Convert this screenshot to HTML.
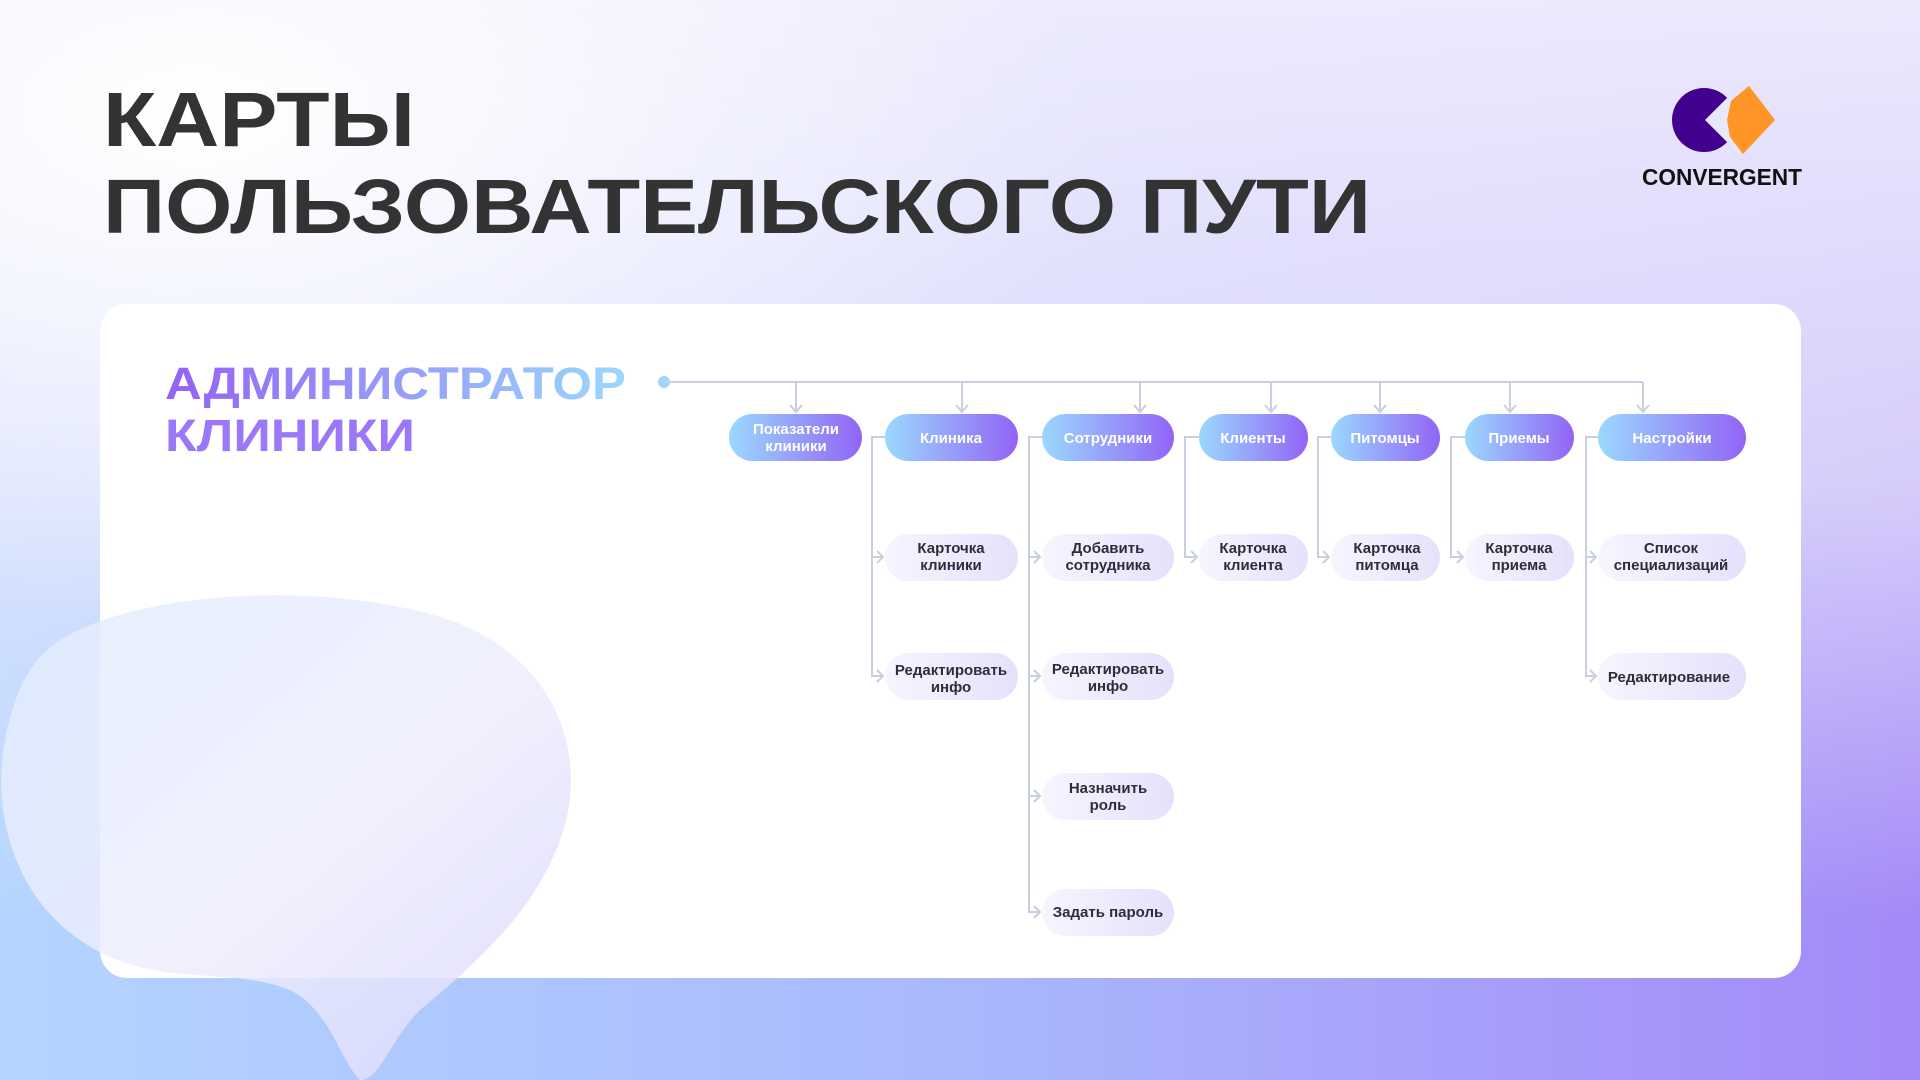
<!DOCTYPE html>
<html><head><meta charset="utf-8"><style>
html,body{margin:0;padding:0;width:1920px;height:1080px;overflow:hidden}
body{background:
radial-gradient(ellipse 900px 500px at 200px 120px,rgba(255,255,255,1),rgba(255,255,255,0)),
linear-gradient(to bottom,rgba(240,238,253,0.95) 0%,rgba(236,233,252,0.7) 45%,rgba(236,233,252,0) 85%),
linear-gradient(to right,#b4d5ff 0%,#a9b8fd 50%,#a489f7 100%);}
svg{position:absolute;left:0;top:0}
text{font-family:"Liberation Sans",sans-serif}
</style></head><body>
<svg width="1920" height="1080" viewBox="0 0 1920 1080">
<defs>
<linearGradient id="top" x1="0" x2="1"><stop offset="0" stop-color="#9bd8fe"/><stop offset="1" stop-color="#9264f6"/></linearGradient>
<linearGradient id="sub" x1="0" x2="1"><stop offset="0" stop-color="#f7f5fe"/><stop offset="1" stop-color="#e5e1fc"/></linearGradient>
<linearGradient id="ttl" x1="0" x2="1"><stop offset="0" stop-color="#9461f6"/><stop offset="1" stop-color="#9ad8fe"/></linearGradient>
<linearGradient id="blob" x1="0" y1="0" x2="1" y2="1"><stop offset="0" stop-color="#e2edff"/><stop offset="0.55" stop-color="#eeedfd"/><stop offset="1" stop-color="#d9d8fb"/></linearGradient>
</defs>
<text x="103" y="146" font-size="77" font-weight="bold" fill="#333" textLength="312" lengthAdjust="spacingAndGlyphs">КАРТЫ</text>
<text x="103" y="233" font-size="77" font-weight="bold" fill="#333" textLength="1268" lengthAdjust="spacingAndGlyphs">ПОЛЬЗОВАТЕЛЬСКОГО ПУТИ</text>
<!-- logo -->
<circle cx="1704" cy="120" r="32" fill="#43008f"/>
<polygon points="1705,120 1740,85 1740,155" fill="#e9e7fc"/>
<polygon points="1749,86 1775,120 1743,154 1730,137 1727,120 1731,101" fill="#ff9527"/>
<text x="1642" y="185" font-size="23" font-weight="bold" fill="#111" textLength="160" lengthAdjust="spacingAndGlyphs">CONVERGENT</text>
<rect x="100" y="304" width="1701" height="674" rx="27" fill="#fff"/>
<path d="M60,640 C140,590 330,580 450,620 C560,660 590,760 560,840 C535,910 480,960 420,1010 C390,1040 380,1080 360,1080 C340,1060 330,1010 290,990 C230,965 150,990 80,940 C20,900 -10,820 5,740 C15,690 30,660 60,640 Z" fill="url(#blob)" opacity="0.85"/>
<text x="165" y="399" font-size="45" font-weight="bold" fill="url(#ttl)" textLength="461" lengthAdjust="spacingAndGlyphs">АДМИНИСТРАТОР</text>
<text x="165" y="451" font-size="45" font-weight="bold" textLength="250" lengthAdjust="spacingAndGlyphs" style="fill:#9a78f7">КЛИНИКИ</text>
<g stroke="#c9cfe0" stroke-width="2" fill="none">
<circle cx="664" cy="382" r="6" fill="#9ad6fe" stroke="none"/>
<line x1="664" y1="382" x2="1643" y2="382"/>
<path d="M796,382V412 M790,405l6,7 6,-7"/>
<path d="M962,382V412 M956,405l6,7 6,-7"/>
<path d="M1140,382V412 M1134,405l6,7 6,-7"/>
<path d="M1271,382V412 M1265,405l6,7 6,-7"/>
<path d="M1380,382V412 M1374,405l6,7 6,-7"/>
<path d="M1510,382V412 M1504,405l6,7 6,-7"/>
<path d="M1643,382V412 M1637,405l6,7 6,-7"/>
<path d="M885,437H872V676H883 M872,557H883 M877,551l6,6 -6,6 M877,670l6,6 -6,6"/>
<path d="M1042,437H1029V912H1040 M1029,557H1040 M1029,676H1040 M1029,796H1040 M1034,551l6,6 -6,6 M1034,670l6,6 -6,6 M1034,790l6,6 -6,6 M1034,906l6,6 -6,6"/>
<path d="M1199,437H1185V557H1197 M1191,551l6,6 -6,6"/>
<path d="M1331,437H1318V557H1329 M1323,551l6,6 -6,6"/>
<path d="M1465,437H1451V557H1463 M1457,551l6,6 -6,6"/>
<path d="M1598,437H1586V676H1596 M1586,557H1596 M1590,551l6,6 -6,6 M1590,670l6,6 -6,6"/>
</g>
<g font-size="15" font-weight="bold" fill="#fff" text-anchor="middle">
<rect x="729" y="414" width="133" height="47" rx="23.5" fill="url(#top)"/>
<text x="796" y="434" fill="#fff">Показатели</text><text x="796" y="451" fill="#fff">клиники</text>
<rect x="885" y="414" width="133" height="47" rx="23.5" fill="url(#top)"/><text x="951" y="443" fill="#fff">Клиника</text>
<rect x="1042" y="414" width="132" height="47" rx="23.5" fill="url(#top)"/><text x="1108" y="443" fill="#fff">Сотрудники</text>
<rect x="1199" y="414" width="109" height="47" rx="23.5" fill="url(#top)"/><text x="1253" y="443" fill="#fff">Клиенты</text>
<rect x="1331" y="414" width="109" height="47" rx="23.5" fill="url(#top)"/><text x="1385" y="443" fill="#fff">Питомцы</text>
<rect x="1465" y="414" width="109" height="47" rx="23.5" fill="url(#top)"/><text x="1519" y="443" fill="#fff">Приемы</text>
<rect x="1598" y="414" width="148" height="47" rx="23.5" fill="url(#top)"/><text x="1672" y="443" fill="#fff">Настройки</text>
</g>
<g font-size="15" fill="#2e2e38" text-anchor="middle" font-weight="bold">
<rect x="885" y="534" width="133" height="47" rx="23.5" fill="url(#sub)"/><text x="951" y="553">Карточка</text><text x="951" y="570">клиники</text>
<rect x="885" y="653" width="133" height="47" rx="23.5" fill="url(#sub)"/><text x="951" y="675">Редактировать</text><text x="951" y="692">инфо</text>
<rect x="1042" y="534" width="132" height="47" rx="23.5" fill="url(#sub)"/><text x="1108" y="553">Добавить</text><text x="1108" y="570">сотрудника</text>
<rect x="1042" y="653" width="132" height="47" rx="23.5" fill="url(#sub)"/><text x="1108" y="674">Редактировать</text><text x="1108" y="691">инфо</text>
<rect x="1042" y="773" width="132" height="47" rx="23.5" fill="url(#sub)"/><text x="1108" y="793">Назначить</text><text x="1108" y="810">роль</text>
<rect x="1042" y="889" width="132" height="47" rx="23.5" fill="url(#sub)"/><text x="1108" y="917">Задать пароль</text>
<rect x="1199" y="534" width="109" height="47" rx="23.5" fill="url(#sub)"/><text x="1253" y="553">Карточка</text><text x="1253" y="570">клиента</text>
<rect x="1331" y="534" width="109" height="47" rx="23.5" fill="url(#sub)"/><text x="1387" y="553">Карточка</text><text x="1387" y="570">питомца</text>
<rect x="1465" y="534" width="109" height="47" rx="23.5" fill="url(#sub)"/><text x="1519" y="553">Карточка</text><text x="1519" y="570">приема</text>
<rect x="1598" y="534" width="148" height="47" rx="23.5" fill="url(#sub)"/><text x="1671" y="553">Список</text><text x="1671" y="570">специализаций</text>
<rect x="1598" y="653" width="148" height="47" rx="23.5" fill="url(#sub)"/><text x="1669" y="682">Редактирование</text>
</g>
</svg>
</body></html>
